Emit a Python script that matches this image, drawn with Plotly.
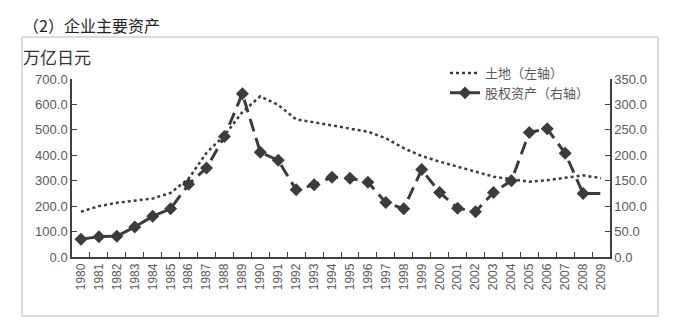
import plotly.graph_objects as go

# Japanese corporate main assets, trillion yen (万亿日元)
years = [str(y) for y in range(1980, 2010)]
land = [178, 200, 213, 222, 230, 252, 308, 410, 478, 570,
        632, 598, 541, 530, 519, 505, 493, 467, 428, 397,
        375, 355, 335, 316, 306, 296, 302, 312, 321, 310]
equity = [35, 40, 41, 59, 80, 95, 143, 175, 237, 321,
          206, 190, 132, 142, 157, 155, 147, 107, 95, 172,
          127, 96, 89, 127, 150, 245, 252, 204, 125, 125]

title_text = "（2）企业主要资产"
unit_text = "万亿日元"
land_name = "土地（左轴）"
equity_name = "股权资产（右轴）"

cjk = "Noto Sans CJK SC"
num_font = "Liberation Sans"
ink = "#3c3c3c"
label_grey = "#595959"

# the final year carries no marker
marker_sizes = [10] * (len(years) - 1) + [0]

fig = go.Figure()
fig.add_trace(go.Scatter(
    x=years, y=land, name=land_name, mode="lines",
    line=dict(color=ink, width=2.5, dash="3px,3px"),
    yaxis="y",
))
fig.add_trace(go.Scatter(
    x=years, y=equity, name=equity_name, mode="lines+markers",
    line=dict(color=ink, width=3, dash="13px,7px"),
    marker=dict(symbol="diamond", size=marker_sizes, color=ink,
                opacity=1, line=dict(width=0)),
    yaxis="y2",
))

W, H = 688, 334
L, R, T, B = 72, 78, 79, 77
pw, ph = W - L - R, H - T - B


def px_x(px):
    return (px - L) / pw


def px_y(py):
    return (H - B - py) / ph


fig.update_layout(
    width=W, height=H,
    margin=dict(l=L, r=R, t=T, b=B),
    paper_bgcolor="white", plot_bgcolor="white",
    showlegend=True,
    legend=dict(
        x=px_x(445), y=px_y(58), xanchor="left", yanchor="top",
        bgcolor="rgba(0,0,0,0)",
        font=dict(family=cjk, size=13, color=label_grey),
        itemwidth=30, tracegroupgap=0,
    ),
    xaxis=dict(
        type="category", range=[-0.5, 29.5],
        showline=True, linecolor="#404040", linewidth=1.5,
        ticks="inside", tickson="boundaries", ticklen=5,
        tickcolor="#404040", tickwidth=1.2,
        tickangle=-90,
        tickfont=dict(family=num_font, size=12, color=label_grey),
        showgrid=False, zeroline=False,
    ),
    yaxis=dict(
        range=[0, 700], dtick=100, tickformat=".1f",
        showline=True, linecolor="#404040", linewidth=1.5,
        ticks="inside", ticklen=5, tickcolor="#404040", tickwidth=1.2,
        tickfont=dict(family=num_font, size=13, color=label_grey),
        showgrid=False, zeroline=False,
    ),
    yaxis2=dict(
        range=[0, 350], dtick=50, tickformat=".1f",
        overlaying="y", side="right",
        showline=True, linecolor="#404040", linewidth=1.5,
        ticks="inside", ticklen=5, tickcolor="#404040", tickwidth=1.2,
        tickfont=dict(family=num_font, size=13, color=label_grey),
        showgrid=False, zeroline=False,
    ),
)

# light frame around the chart block
fig.add_shape(
    type="rect", xref="paper", yref="paper",
    x0=px_x(22), x1=px_x(658), y0=px_y(316), y1=px_y(37),
    line=dict(color="#d0d0d0", width=1.5), layer="below",
)

fig.add_annotation(
    text=title_text, xref="paper", yref="paper",
    x=px_x(21), y=px_y(25), xanchor="left", yanchor="middle",
    showarrow=False, font=dict(family=cjk, size=16, color="#222222"),
)
fig.add_annotation(
    text=unit_text, xref="paper", yref="paper",
    x=px_x(21), y=px_y(57), xanchor="left", yanchor="middle",
    showarrow=False, font=dict(family=cjk, size=17, color="#333333"),
)

fig.write_html("out.html")
